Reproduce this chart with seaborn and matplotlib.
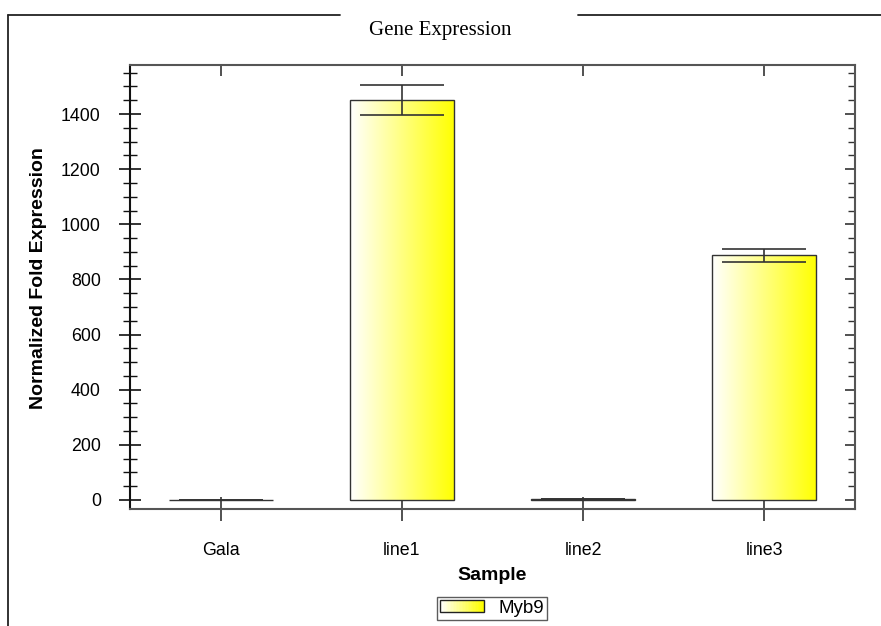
import numpy as np
import matplotlib
matplotlib.use("Agg")
import matplotlib.pyplot as plt
import seaborn as sns
from matplotlib.colors import LinearSegmentedColormap
from matplotlib.lines import Line2D
from matplotlib.patches import Rectangle
from matplotlib.legend_handler import HandlerBase
from matplotlib.ticker import MultipleLocator

# data
samples = ["Gala", "line1", "line2", "line3"]
fold_expr = [1, 1450, 4, 888]
fold_err = [0, 54, 1, 23]
series_name = "Myb9"

sns.set_theme(style="white")
plt.rcParams["font.family"] = ["Liberation Sans", "DejaVu Sans"]
plt.rcParams["text.color"] = "black"
plt.rcParams["axes.labelcolor"] = "black"
plt.rcParams["xtick.color"] = "black"
plt.rcParams["ytick.color"] = "black"

grad_cmap = LinearSegmentedColormap.from_list("wy", ["#ffffff", "#ffff00"])


class GradientHandler(HandlerBase):
    # legend key drawn as thin stripes going white -> yellow
    def create_artists(self, legend, orig_handle, xdescent, ydescent,
                       width, height, fontsize, trans):
        n = 30
        arts = []
        for i in range(n):
            r = Rectangle((-xdescent + width * i / n, -ydescent), width / n + 0.3, height,
                          facecolor=grad_cmap(i / (n - 1)), edgecolor="none", transform=trans)
            arts.append(r)
        arts.append(Rectangle((-xdescent, -ydescent), width, height, facecolor="none",
                              edgecolor="#222222", lw=1.0, transform=trans))
        return arts


fig = plt.figure(figsize=(8.81, 6.26), dpi=100)
ax = fig.add_axes([130 / 881, 1 - 509 / 626, 725 / 881, 444 / 626])

sns.barplot(x=samples, y=fold_expr, width=0.575, color="#ffff00", edgecolor="#333333",
            linewidth=1.0, errorbar=None, ax=ax)

ylim = (-33, 1578)
xlim = (-0.5, 3.5)

# gradient fill inside each bar
grad = np.linspace(0, 1, 256).reshape(1, -1)
for p in ax.patches:
    x0, y0 = p.get_x(), p.get_y()
    w, h = p.get_width(), p.get_height()
    p.set_facecolor("none")
    im = ax.imshow(grad, extent=[x0, x0 + w, y0, y0 + h], aspect="auto", cmap=grad_cmap,
                   origin="lower", zorder=p.get_zorder() - 0.1, interpolation="bilinear")
    im.set_clip_path(p)

ax.errorbar(x=np.arange(len(samples)), y=fold_expr, yerr=fold_err, fmt="none",
            ecolor="#333333", elinewidth=1.2, capsize=30, capthick=1.2, zorder=5)

ax.set_xlim(*xlim)
ax.set_ylim(*ylim)
ax.set_aspect("auto")

for s in ax.spines.values():
    s.set_color("#555555")
    s.set_linewidth(1.5)
ax.spines["left"].set_color("#111111")

ax.yaxis.set_major_locator(MultipleLocator(200))
ax.yaxis.set_minor_locator(MultipleLocator(50))
ax.tick_params(axis="y", which="major", direction="inout", length=16, width=1.2,
               color="#111111", labelsize=12.8, pad=13, left=True)
ax.tick_params(axis="y", which="minor", direction="inout", length=10, width=1.0,
               color="#111111", left=True)
ax.tick_params(axis="x", which="major", direction="inout", length=17, width=1.2,
               color="#333333", labelsize=12.8, pad=15, bottom=True)

# right and top ticks point inward
sec_y = ax.secondary_yaxis("right")
sec_y.yaxis.set_major_locator(MultipleLocator(200))
sec_y.yaxis.set_minor_locator(MultipleLocator(50))
sec_y.tick_params(which="major", direction="in", length=7, width=1.2, color="#333333", labelright=False)
sec_y.tick_params(which="minor", direction="in", length=5, width=1.0, color="#333333")
sec_y.spines["right"].set_visible(False)

sec_x = ax.secondary_xaxis("top")
sec_x.set_xticks(range(len(samples)))
sec_x.tick_params(direction="in", length=8, width=1.2, color="#333333", labeltop=False)
sec_x.spines["top"].set_visible(False)

ax.set_xlabel("Sample", fontsize=14, fontweight="bold", labelpad=6)
ax.set_ylabel("Normalized Fold Expression", fontsize=14, fontweight="bold")
ax.yaxis.set_label_coords(-0.115, 0.52)

leg = fig.legend([Rectangle((0, 0), 1, 1)], [series_name], handler_map={Rectangle: GradientHandler()},
                 loc="center", bbox_to_anchor=(492 / 881, 1 - 608.5 / 626), fontsize=13.5,
                 frameon=True, fancybox=False, handlelength=2.35, handleheight=0.62,
                 borderpad=0.15, handletextpad=0.8)
leg.get_frame().set_edgecolor("#333333")
leg.get_frame().set_linewidth(1.0)

# outer frame with a gap for the title
fig.add_artist(Line2D([8 / 881, 8 / 881], [0, 1 - 15 / 626], color="#222222", lw=1.3))
fig.add_artist(Line2D([8 / 881, 340 / 881], [1 - 15 / 626] * 2, color="#222222", lw=1.3))
fig.add_artist(Line2D([578 / 881, 1], [1 - 15 / 626] * 2, color="#222222", lw=1.3))
fig.text(440 / 881, 1 - 30 / 626, "Gene Expression", ha="center", va="center", fontsize=15,
         family=["Liberation Serif", "DejaVu Serif"])

fig.savefig("out.png", dpi=100)
